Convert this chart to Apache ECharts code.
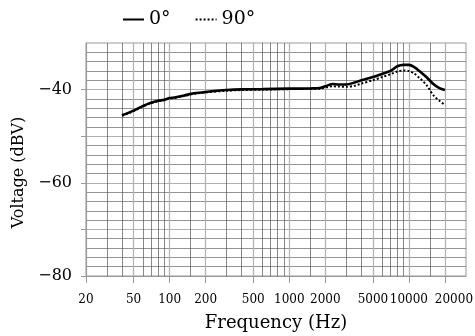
<!DOCTYPE html>
<html>
<head>
<meta charset="utf-8">
<script src="https://cdn.jsdelivr.net/npm/echarts@6/dist/echarts.min.js"></script>
<style>
  html, body {margin: 0; padding: 0; background: #fff;}
  #main {width: 475px; height: 336px;}
</style>
</head>
<body>
<div id="main"></div>
<script>
// frequency points (Hz) and responses (dBV)
const freqs = [40, 50, 60, 70, 80, 90, 100, 110, 130, 160, 200, 300, 400, 600, 1000, 1500, 1800,
  2050, 2300, 2600, 3000, 3500, 4000, 5000, 6000, 7000, 8000, 9000, 10000, 11000, 12500, 14000,
  16000, 18000, 20000];
const resp0 = [-45.5, -44.5, -43.5, -42.8, -42.4, -42.2, -41.8, -41.7, -41.3, -40.8, -40.5, -40.1,
  -39.95, -39.9, -39.8, -39.75, -39.65, -39.2, -38.8, -38.9, -38.9, -38.5, -38.0, -37.3, -36.6,
  -36.0, -35.0, -34.7, -34.7, -35.1, -36.2, -37.3, -38.8, -39.7, -40.1];
const resp90 = [-45.6, -44.6, -43.6, -42.9, -42.5, -42.3, -41.9, -41.8, -41.4, -40.9, -40.6, -40.25,
  -40.1, -40.0, -39.9, -39.85, -39.8, -39.5, -39.3, -39.35, -39.4, -39.2, -38.7, -38.0, -37.3,
  -36.7, -36.1, -35.9, -36.0, -36.5, -37.7, -39.0, -41.2, -42.4, -43.3];

const seriesNames = ['0°', '90°'];
const xLabels = [20, 50, 100, 200, 500, 1000, 2000, 5000, 10000, 20000];
const xMinor = [30, 40, 60, 70, 80, 90, 150, 300, 400, 600, 700, 800, 900, 1500,
  3000, 4000, 6000, 7000, 8000, 9000, 15000];
const yLabels = [-80, -60, -40];
const yTicks = [-80, -70, -60, -50, -40];

const serif = 'DejaVu Serif';
const chart = echarts.init(document.getElementById('main'));
chart.setOption({
  animation: false,
  legend: {
    left: 122, top: 10, padding: 0,
    itemWidth: 21, itemHeight: 14, itemGap: 24,
    itemStyle: {opacity: 0},
    textStyle: {fontFamily: serif, fontSize: 19, color: '#000'},
    data: seriesNames
  },
  grid: {
    left: 86, right: 9, top: 43, bottom: 60,
    outerBoundsMode: 'none', containLabel: false,
    show: true, borderColor: '#999', borderWidth: 1
  },
  xAxis: [
    {
      type: 'log', min: 20, max: 30000,
      name: 'Frequency (Hz)', nameLocation: 'middle', nameGap: 38,
      nameTextStyle: {fontFamily: serif, fontSize: 18, color: '#000'},
      axisLine: {lineStyle: {color: '#999'}},
      axisTick: {customValues: xLabels, length: 7, lineStyle: {color: '#999'}},
      axisLabel: {
        customValues: xLabels, margin: 18, hideOverlap: false,
        fontFamily: serif, fontSize: 12, color: '#000',
        // the last label sits a little right of its tick, as in the source
        formatter: v => {
          const s = String(Math.round(v));
          return Math.round(v) === xLabels[xLabels.length - 1] ? '{last|' + s + '}' : s;
        },
        rich: {last: {fontFamily: serif, fontSize: 12, color: '#000', padding: [0, 0, 0, 18]}}
      },
      splitLine: {show: true, lineStyle: {color: '#b0b0b0', width: 1.2}}
    },
    {
      type: 'log', min: 20, max: 30000, position: 'bottom',
      axisLine: {show: false},
      axisTick: {show: false, customValues: xMinor},
      axisLabel: {show: false},
      splitLine: {show: true, lineStyle: {color: '#555', width: 0.7}}
    }
  ],
  yAxis: {
    type: 'value', min: -80, max: -30, interval: 10,
    name: 'Voltage (dBV)', nameLocation: 'middle', nameGap: 57,
    nameTextStyle: {fontFamily: serif, fontSize: 16, color: '#000', padding: [0, 26, 0, 0]},
    axisLine: {show: true, lineStyle: {color: '#999'}},
    axisTick: {show: true, customValues: yTicks, length: 5, lineStyle: {color: '#999'}},
    axisLabel: {
      customValues: yLabels, margin: 14,
      fontFamily: serif, fontSize: 16, color: '#000',
      formatter: v => '\u2212' + Math.abs(v)
    },
    splitLine: {show: true, lineStyle: {color: '#b0b0b0', width: 1.2}},
    minorTick: {show: false, splitNumber: 5},
    minorSplitLine: {show: true, lineStyle: {color: '#666', width: 0.7}}
  },
  series: [
    {
      name: seriesNames[0], type: 'line', symbol: 'none', smooth: 0.3,
      lineStyle: {color: '#000', width: 2.6},
      itemStyle: {color: '#000'},
      data: freqs.map((f, i) => [f, resp0[i]]),
      z: 3
    },
    {
      name: seriesNames[1], type: 'line', symbol: 'none', smooth: 0.3,
      lineStyle: {color: '#000', width: 2, type: 'dotted'},
      itemStyle: {color: '#000'},
      data: freqs.map((f, i) => [f, resp90[i]]),
      z: 2
    }
  ]
});
</script>
</body>
</html>
